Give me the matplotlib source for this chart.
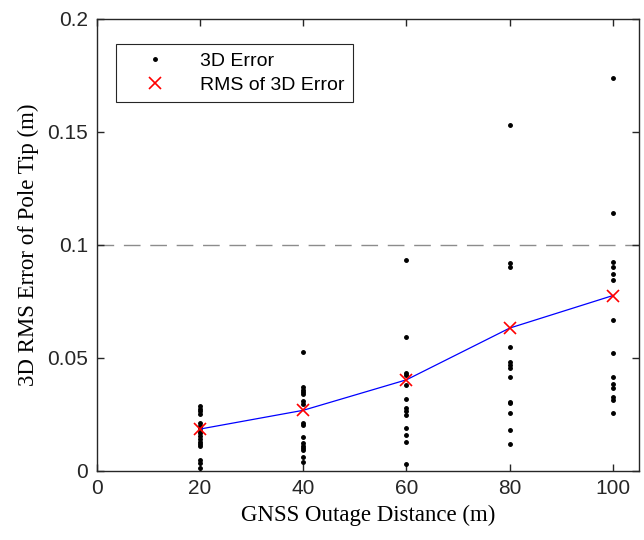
import matplotlib
matplotlib.use("Agg")
import matplotlib.pyplot as plt
import numpy as np

# outage distances (m)
DIST = [20, 40, 60, 80, 100]

# 3D error samples per outage distance (m)
ERR_20 = [0.0285, 0.0274, 0.0264, 0.0253, 0.0211, 0.0199, 0.0189, 0.0178, 0.0167,
          0.0155, 0.0143, 0.0130, 0.0118, 0.0108, 0.0046, 0.0034, 0.0012]
ERR_40 = [0.0525, 0.0370, 0.0360, 0.0350, 0.0340, 0.0310, 0.0296, 0.0214, 0.0204,
          0.0152, 0.0123, 0.0112, 0.0103, 0.0093, 0.0063, 0.0041]
ERR_60 = [0.0934, 0.0594, 0.0435, 0.0425, 0.0378, 0.0319, 0.0277, 0.0267, 0.0248,
          0.0189, 0.0159, 0.0130, 0.0031]
ERR_80 = [0.1531, 0.0919, 0.0904, 0.0550, 0.0484, 0.0469, 0.0454, 0.0417, 0.0307,
          0.0300, 0.0255, 0.0181, 0.0118]
ERR_100 = [0.1740, 0.1140, 0.0926, 0.0900, 0.0873, 0.0846, 0.0668, 0.0521, 0.0417,
           0.0384, 0.0366, 0.0329, 0.0314, 0.0255]

RMS = [0.0185, 0.0268, 0.0403, 0.0632, 0.0776]

THRESHOLD = 0.1

plt.rcParams.update({
    "font.family": ["Liberation Sans", "DejaVu Sans"],
    "axes.linewidth": 1.0,
})

fig = plt.figure(figsize=(6.44, 5.40), dpi=100)
ax = fig.add_axes([0.150, 0.128, 0.842, 0.837])

for d, errs in zip(DIST, [ERR_20, ERR_40, ERR_60, ERR_80, ERR_100]):
    ax.plot([d] * len(errs), errs, ".", color="black", ms=5, zorder=3,
            label="3D Error" if d == DIST[0] else None)

ax.axhline(THRESHOLD, color="#8c8c8c", lw=1.0, dashes=(12, 7), zorder=1)
ax.plot(DIST, RMS, "-", color="#0000ff", lw=0.9, zorder=4)
ax.plot(DIST, RMS, "x", color="#ff0000", ms=8, mew=1.2, ls="none", zorder=5,
        label="RMS of 3D Error")

ax.set_xlim(0, 105)
ax.set_ylim(0, 0.2)
ax.set_xticks([0, 20, 40, 60, 80, 100])
ax.set_yticks([0, 0.05, 0.1, 0.15, 0.2])
ax.set_yticklabels(["0", "0.05", "0.1", "0.15", "0.2"])
ax.tick_params(direction="in", top=True, right=True, length=5, width=1.0,
               labelsize=15, colors="#262626", pad=6)
for s in ax.spines.values():
    s.set_color("#262626")

ax.set_xlabel("GNSS Outage Distance (m)", family=["Liberation Serif"], fontsize=16.5,
              labelpad=5)
ax.set_ylabel("3D RMS Error of Pole Tip (m)", family=["Liberation Serif"], fontsize=16.5,
              labelpad=6)

leg = ax.legend(loc="upper left", bbox_to_anchor=(0.035, 0.945), fontsize=14,
                fancybox=False, edgecolor="#262626", framealpha=1,
                handlelength=3.2, handletextpad=0.7, borderpad=0.45,
                labelspacing=0.3, borderaxespad=0)
leg.get_frame().set_linewidth(0.8)

fig.savefig("out.png", dpi=100)
